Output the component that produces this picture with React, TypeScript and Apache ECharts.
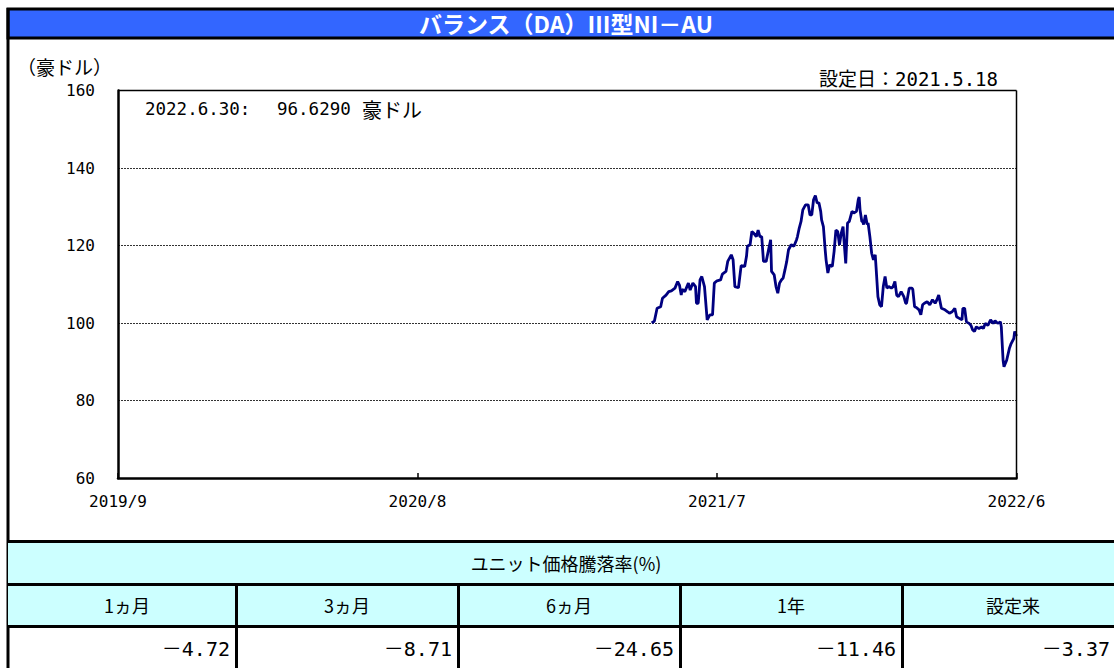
import React, { useEffect, useRef } from "react";
import * as echarts from "echarts";

// ---- data ----
const AXIS_START = "2019-09-29";
const AXIS_END = "2022-06-30";
const xTickLabels = ["2019/9", "2020/8", "2021/7", "2022/6"];
const Y_MIN = 60;
const Y_MAX = 160;
const Y_STEP = 20;

const dates = [
  "2021-05-18", "2021-05-21", "2021-05-24", "2021-05-28", "2021-05-30", "2021-06-03", "2021-06-06", "2021-06-09",
  "2021-06-13", "2021-06-16", "2021-06-18", "2021-06-20", "2021-06-21", "2021-06-24", "2021-06-28", "2021-06-30",
  "2021-07-03", "2021-07-06", "2021-07-07", "2021-07-09", "2021-07-11", "2021-07-13", "2021-07-16", "2021-07-19",
  "2021-07-22", "2021-07-25", "2021-07-27", "2021-07-30", "2021-08-03", "2021-08-05", "2021-08-09", "2021-08-11",
  "2021-08-15", "2021-08-17", "2021-08-19", "2021-08-23", "2021-08-26", "2021-08-30", "2021-09-01", "2021-09-02",
  "2021-09-05", "2021-09-07", "2021-09-09", "2021-09-12", "2021-09-14", "2021-09-16", "2021-09-18", "2021-09-20",
  "2021-09-23", "2021-09-26", "2021-09-28", "2021-09-29", "2021-10-02", "2021-10-04", "2021-10-06", "2021-10-08",
  "2021-10-10", "2021-10-12", "2021-10-14", "2021-10-16", "2021-10-18", "2021-10-21", "2021-10-24", "2021-10-27",
  "2021-10-28", "2021-10-30", "2021-11-01", "2021-11-03", "2021-11-06", "2021-11-09", "2021-11-11", "2021-11-13",
  "2021-11-15", "2021-11-17", "2021-11-19", "2021-11-21", "2021-11-23", "2021-11-24", "2021-11-26", "2021-11-28",
  "2021-11-29", "2021-12-01", "2021-12-03", "2021-12-06", "2021-12-08", "2021-12-10", "2021-12-12", "2021-12-14",
  "2021-12-16", "2021-12-18", "2021-12-19", "2021-12-21", "2021-12-23", "2021-12-25", "2021-12-28", "2021-12-30",
  "2022-01-02", "2022-01-04", "2022-01-05", "2022-01-06", "2022-01-08", "2022-01-09", "2022-01-10", "2022-01-12",
  "2022-01-14", "2022-01-15", "2022-01-17", "2022-01-19", "2022-01-21", "2022-01-23", "2022-01-24", "2022-01-26",
  "2022-01-28", "2022-01-30", "2022-02-01", "2022-02-03", "2022-02-05", "2022-02-07", "2022-02-10", "2022-02-12",
  "2022-02-14", "2022-02-16", "2022-02-18", "2022-02-21", "2022-02-24", "2022-02-26", "2022-02-27", "2022-03-02",
  "2022-03-05", "2022-03-06", "2022-03-08", "2022-03-10", "2022-03-13", "2022-03-15", "2022-03-17", "2022-03-19",
  "2022-03-22", "2022-03-25", "2022-03-28", "2022-03-31", "2022-04-02", "2022-04-04", "2022-04-07", "2022-04-11",
  "2022-04-14", "2022-04-16", "2022-04-19", "2022-04-22", "2022-04-24", "2022-04-27", "2022-04-30", "2022-05-01",
  "2022-05-03", "2022-05-05", "2022-05-08", "2022-05-10", "2022-05-12", "2022-05-14", "2022-05-16", "2022-05-19",
  "2022-05-22", "2022-05-24", "2022-05-26", "2022-05-29", "2022-06-01", "2022-06-04", "2022-06-06", "2022-06-09",
  "2022-06-12", "2022-06-13", "2022-06-15", "2022-06-16", "2022-06-19", "2022-06-22", "2022-06-24", "2022-06-27",
  "2022-06-28", "2022-06-30",
];

const prices = [
  100.0, 100.5, 103.8, 104.2, 106.4, 107.2, 108.1, 108.3,
  109.0, 110.7, 109.8, 107.2, 108.7, 108.1, 110.3, 108.5,
  110.3, 109.4, 105.1, 105.1, 111.1, 112.0, 109.4, 100.8,
  102.1, 102.1, 110.3, 110.9, 111.1, 112.6, 113.3, 115.9,
  117.6, 116.3, 109.4, 109.1, 114.8, 114.6, 117.2, 119.8,
  120.2, 123.6, 123.2, 122.3, 124.0, 122.3, 122.3, 115.9,
  115.9, 119.3, 121.5, 113.3, 112.4, 109.4, 107.7, 110.3,
  111.1, 111.6, 113.7, 115.9, 118.9, 120.2, 119.8, 121.5,
  122.3, 124.5, 126.2, 129.2, 130.5, 130.5, 127.9, 127.9,
  131.8, 132.9, 131.0, 131.0, 128.8, 126.6, 124.9, 118.9,
  116.3, 112.9, 115.0, 114.6, 118.5, 124.0, 123.6, 120.2,
  123.2, 124.9, 121.5, 115.4, 125.8, 126.2, 128.8, 128.4,
  128.8, 131.8, 132.5, 129.2, 126.2, 126.2, 125.4, 127.9,
  125.4, 125.8, 122.3, 118.0, 116.3, 117.6, 114.1, 106.8,
  104.7, 104.2, 109.4, 112.0, 109.0, 109.4, 109.0, 109.4,
  110.7, 107.2, 106.8, 108.1, 106.8, 105.1, 105.1, 109.0,
  109.0, 108.7, 104.2, 104.0, 103.4, 102.1, 104.7, 105.1,
  105.5, 104.7, 106.0, 105.1, 106.0, 107.2, 103.8, 103.4,
  102.9, 102.5, 102.9, 103.8, 101.6, 101.2, 100.8, 103.8,
  103.8, 100.3, 99.9, 99.4, 98.2, 97.8, 99.0, 98.6,
  99.0, 98.6, 99.9, 99.4, 100.8, 99.9, 100.6, 99.9,
  100.3, 99.0, 90.4, 88.7, 90.4, 93.4, 94.7, 96.0,
  97.8, 96.629,
];

const titleText = "バランス（DA）Ⅲ型NI－AU";
const unitLabel = "（豪ドル）";
const launchLabel = "設定日：2021.5.18";
const latestDate = "2022.6.30:";
const latestValue = "96.6290";
const latestUnit = "豪ドル";
const tableTitle = "ユニット価格騰落率(%)";
const periodLabels = ["1ヵ月", "3ヵ月", "6ヵ月", "1年", "設定来"];
const periodReturns = ["－4.72", "－8.71", "－24.65", "－11.46", "－3.37"];

// ---- helpers ----
const DAY = 86400000;
const dayOffset = (d: string) => Math.round((Date.parse(d) - Date.parse(AXIS_START)) / DAY);
const SPAN = dayOffset(AXIS_END);
const X_INTERVAL = SPAN / 3;

const CJK = "'Noto Sans CJK JP', sans-serif";
const MONO = "'DejaVu Sans Mono', 'Noto Sans CJK JP', monospace";

export default function App() {
  const ref = useRef<HTMLDivElement>(null);

  useEffect(() => {
    if (!ref.current) return;
    const chart = echarts.init(ref.current, undefined, { renderer: "svg" });

    const colDividers = [236.5, 458.5, 680.5, 902.5];
    const colCenters = [127, 347, 569, 791, 1013];
    const colRights = [230, 452, 674, 896, 1110];

    const graphic: any[] = [
      // title bar
      {
        type: "rect",
        shape: { x: 8, y: 9, width: 1130, height: 29 },
        style: { fill: "#3366FF", stroke: "#000", lineWidth: 3 },
        silent: true,
      },
      {
        type: "text",
        x: 566,
        y: 23,
        style: {
          text: titleText,
          fill: "#fff",
          font: `bold 23px ${CJK}`,
          align: "center",
          verticalAlign: "middle",
        },
        silent: true,
      },
      // outer frame left
      {
        type: "line",
        shape: { x1: 8, y1: 8, x2: 8, y2: 700 },
        style: { stroke: "#000", lineWidth: 3 },
        silent: true,
      },
      // units
      {
        type: "text",
        x: 17,
        y: 66,
        style: { text: unitLabel, fill: "#000", font: `19px ${CJK}`, align: "left", verticalAlign: "middle" },
        silent: true,
      },
      {
        type: "text",
        x: 998,
        y: 79,
        style: { text: launchLabel, fill: "#000", font: `19px ${MONO}`, align: "right", verticalAlign: "middle" },
        silent: true,
      },
      {
        type: "text",
        x: 145,
        y: 109,
        style: { text: latestDate, fill: "#000", font: `17.5px ${MONO}`, align: "left", verticalAlign: "middle" },
        silent: true,
      },
      {
        type: "text",
        x: 277,
        y: 109,
        style: { text: latestValue, fill: "#000", font: `17.5px ${MONO}`, align: "left", verticalAlign: "middle" },
        silent: true,
      },
      {
        type: "text",
        x: 362,
        y: 109,
        style: { text: latestUnit, fill: "#000", font: `20px ${CJK}`, align: "left", verticalAlign: "middle" },
        silent: true,
      },
      // plot top and right border
      {
        type: "line",
        shape: { x1: 118, y1: 90.5, x2: 1016.5, y2: 90.5 },
        style: { stroke: "#000", lineWidth: 1.5 },
        silent: true,
        z: 10,
      },
      {
        type: "line",
        shape: { x1: 1016.5, y1: 90.5, x2: 1016.5, y2: 478 },
        style: { stroke: "#000", lineWidth: 1.5 },
        silent: true,
        z: 10,
      },
      // table background
      {
        type: "rect",
        shape: { x: 8, y: 542, width: 1130, height: 84 },
        style: { fill: "#CCFFFF" },
        silent: true,
      },
      {
        type: "line",
        shape: { x1: 8, y1: 541.5, x2: 1130, y2: 541.5 },
        style: { stroke: "#000", lineWidth: 3 },
        silent: true,
      },
      {
        type: "line",
        shape: { x1: 8, y1: 584.5, x2: 1130, y2: 584.5 },
        style: { stroke: "#000", lineWidth: 3 },
        silent: true,
      },
      {
        type: "line",
        shape: { x1: 8, y1: 626.5, x2: 1130, y2: 626.5 },
        style: { stroke: "#000", lineWidth: 3 },
        silent: true,
      },
      {
        type: "text",
        x: 566,
        y: 563,
        style: { text: tableTitle, fill: "#000", font: `18px ${CJK}`, align: "center", verticalAlign: "middle" },
        silent: true,
      },
    ];

    colDividers.forEach((x) => {
      graphic.push({
        type: "line",
        shape: { x1: x, y1: 584, x2: x, y2: 700 },
        style: { stroke: "#000", lineWidth: 3 },
        silent: true,
      });
    });
    periodLabels.forEach((label, i) => {
      graphic.push({
        type: "text",
        x: colCenters[i],
        y: 605,
        style: { text: label, fill: "#000", font: `18px ${CJK}`, align: "center", verticalAlign: "middle" },
        silent: true,
      });
    });
    periodReturns.forEach((v, i) => {
      graphic.push({
        type: "text",
        x: colRights[i],
        y: 649,
        style: { text: v, fill: "#000", font: `20px ${MONO}`, align: "right", verticalAlign: "middle" },
        silent: true,
      });
    });

    const option: any = {
      animation: false,
      backgroundColor: "#fff",
      grid: { left: 118, top: 90.5, right: 97.5, bottom: 190, containLabel: false },
      xAxis: {
        type: "value",
        min: 0,
        max: SPAN,
        interval: X_INTERVAL,
        axisLine: { show: true, lineStyle: { color: "#000", width: 2.5 } },
        axisTick: { show: true, inside: true, length: 5, lineStyle: { color: "#000", width: 1.5 } },
        axisLabel: {
          color: "#000",
          fontSize: 16,
          fontFamily: MONO,
          margin: 15,
          showMinLabel: true,
          showMaxLabel: true,
          formatter: (v: number) => xTickLabels[Math.round(v / X_INTERVAL)] ?? "",
        },
        splitLine: { show: false },
      },
      yAxis: {
        type: "value",
        min: Y_MIN,
        max: Y_MAX,
        interval: Y_STEP,
        axisLine: { show: true, lineStyle: { color: "#000", width: 2.5 } },
        axisTick: { show: false },
        axisLabel: { color: "#000", fontSize: 16, fontFamily: MONO, margin: 23 },
        splitLine: {
          show: true,
          showMinLine: false,
          showMaxLine: false,
          lineStyle: { color: "#333", type: [2, 1], width: 1 },
        },
      },
      series: [
        {
          type: "line",
          data: dates.map((d, i) => [dayOffset(d), prices[i]]),
          showSymbol: false,
          symbol: "none",
          lineStyle: { color: "#000080", width: 2.8 },
          z: 5,
        },
      ],
      graphic,
    };

    chart.setOption(option);
    return () => chart.dispose();
  }, []);

  return (
    <div
      ref={ref}
      style={{ position: "absolute", left: 0, top: 0, width: 1114, height: 668 }}
    />
  );
}
